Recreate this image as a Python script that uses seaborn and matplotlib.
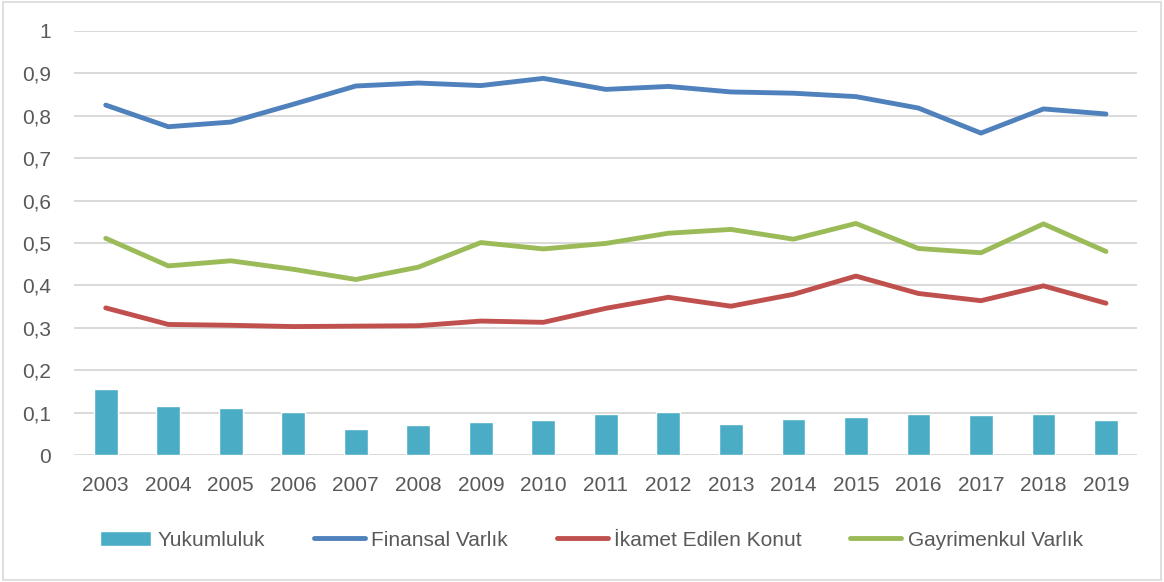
#%%
import numpy as np
import pandas as pd
import matplotlib
matplotlib.use("Agg")
import matplotlib.pyplot as plt
import seaborn as sns
from matplotlib.ticker import FuncFormatter, MultipleLocator
from matplotlib.patches import Rectangle

#%% data
years = ["2003", "2004", "2005", "2006", "2007", "2008", "2009", "2010", "2011",
         "2012", "2013", "2014", "2015", "2016", "2017", "2018", "2019"]
yukumluluk = [0.155, 0.115, 0.111, 0.102, 0.062, 0.070, 0.077, 0.083, 0.098,
              0.101, 0.074, 0.085, 0.091, 0.097, 0.095, 0.098, 0.083]
finansal = [0.825, 0.774, 0.785, 0.827, 0.870, 0.877, 0.871, 0.888, 0.862,
            0.869, 0.856, 0.853, 0.845, 0.818, 0.759, 0.816, 0.804]
konut = [0.347, 0.308, 0.306, 0.303, 0.304, 0.305, 0.316, 0.313, 0.346,
         0.372, 0.351, 0.379, 0.422, 0.381, 0.364, 0.399, 0.358]
gayrimenkul = [0.511, 0.446, 0.458, 0.438, 0.414, 0.443, 0.501, 0.486, 0.499,
               0.523, 0.532, 0.509, 0.546, 0.487, 0.477, 0.545, 0.480]

df = pd.DataFrame({"Yil": years, "Yukumluluk": yukumluluk, "Finansal Varlık": finansal,
                   "İkamet Edilen Konut": konut, "Gayrimenkul Varlık": gayrimenkul})

#%% plot
sns.set_style("white")
plt.rcParams['font.family'] = ['Liberation Sans', 'DejaVu Sans']
text_col = "#595959"

fig = plt.figure(figsize=(11.64, 5.82), dpi=100)
ax = fig.add_axes([0.064, 0.218, 0.913, 0.729])

sns.barplot(data=df, x="Yil", y="Yukumluluk", color="#4BACC6", width=0.38,
            saturation=1, label="Yukumluluk", ax=ax, zorder=2)
line_cols = {"Finansal Varlık": "#4F81BD", "İkamet Edilen Konut": "#C0504D",
             "Gayrimenkul Varlık": "#9BBB59"}
for name, col in line_cols.items():
    sns.lineplot(data=df, x="Yil", y=name, color=col, linewidth=3.5, label=name,
                 ax=ax, zorder=3, solid_capstyle="round", solid_joinstyle="round")

ax.set_xlim(-0.5, len(years) - 0.5)
ax.set_ylim(0, 1)
ax.yaxis.set_major_locator(MultipleLocator(0.1))
ax.yaxis.set_major_formatter(FuncFormatter(
    lambda v, p: f"{v:.0f}" if abs(v - round(v)) < 1e-9 else f"{v:.1f}".replace(".", ",")))
ax.grid(axis="y", color="#D9D9D9", linewidth=1.4, zorder=0)
ax.set_axisbelow(True)
for s in ax.spines.values():
    s.set_visible(False)
ax.set_xlabel("")
ax.set_ylabel("")
ax.tick_params(axis="both", length=0, labelsize=15, colors=text_col)
ax.tick_params(axis="y", pad=17)
ax.tick_params(axis="x", pad=15)

# legend at bottom, bars first
handles, labels = ax.get_legend_handles_labels()
if ax.get_legend() is not None:
    ax.get_legend().remove()
order = [labels.index(l) for l in ["Yukumluluk", "Finansal Varlık", "İkamet Edilen Konut", "Gayrimenkul Varlık"]]
leg = fig.legend([handles[i] for i in order], [labels[i] for i in order],
                 loc="center", bbox_to_anchor=(0.508, 0.072), ncol=4, frameon=False,
                 fontsize=15, handlelength=2.45, handleheight=0.75, handletextpad=0.3,
                 columnspacing=2.35, labelcolor=text_col)

# thin border round the whole picture
fig.patches.append(Rectangle((0.003, 0.004), 0.994, 0.992, transform=fig.transFigure,
                             fill=False, edgecolor="#D9D9D9", linewidth=1.2))

fig.savefig("out.png", dpi=100)
